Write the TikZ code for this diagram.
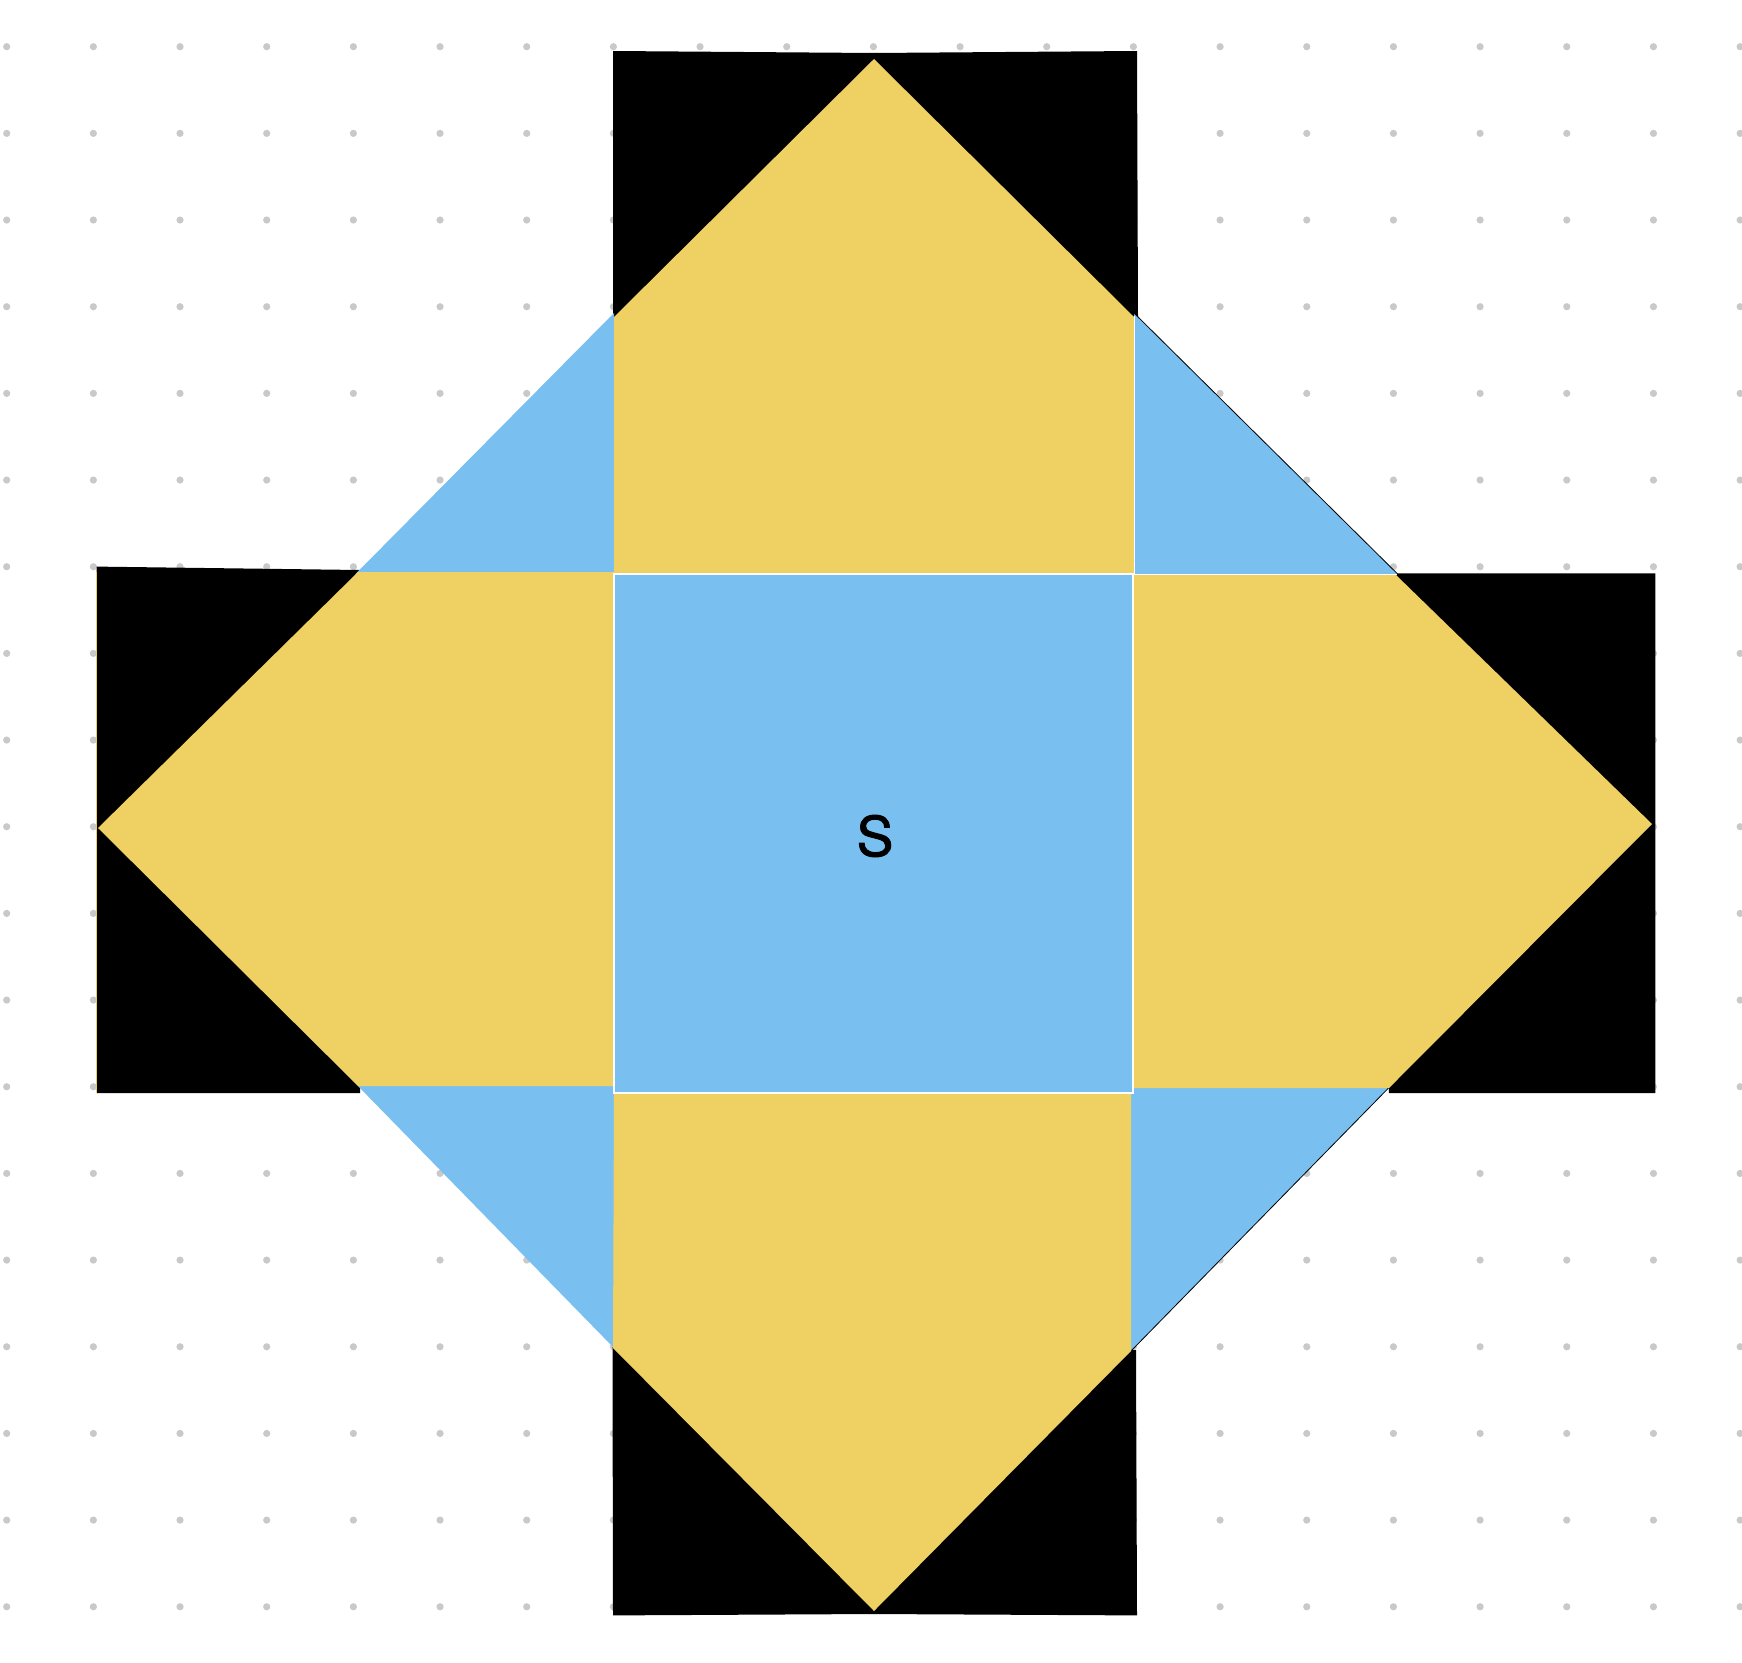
\documentclass[tikz,border=0pt]{standalone}
\usepackage{fontspec}
\setmainfont{TeX Gyre Heros}
\newfontfamily\labelfont[FakeBold=1.6]{TeX Gyre Heros}
\definecolor{flapyellow}{HTML}{EFD063}
\definecolor{skyblue}{HTML}{79C0F0}
\definecolor{dotgray}{HTML}{C9C9C9}
\tikzset{
  blackpart/.style={fill=black},
  yellowpart/.style={fill=flapyellow},
  bluepart/.style={fill=skyblue},
  centresq/.style={fill=skyblue, draw=white, line width=1.5pt},
  griddot/.style={fill=dotgray},
  seam/.style={white, line width=1pt},
  edgeline/.style={black, line width=0.8pt},
  labeltext/.style={font=\labelfont\fontsize{55}{66}\selectfont, text=black, inner sep=0pt}
}
\begin{document}
\begin{tikzpicture}[x=1pt,y=-1pt]
\useasboundingbox[fill=white] (0,0) rectangle (1742,1662);
% dot grid
\foreach \i in {0,...,20}{
  \foreach \j in {0,...,18}{
    \fill[griddot] ({6.7+86.67*\i},{46.7+86.67*\j}) circle[radius=3.6pt];
  }
}
% black rectangles
\fill[blackpart] (613,51) -- (874,53) -- (1137,51) -- (1138,318) -- (613,318) -- cycle;
\fill[blackpart] (96.7,566.6) -- (360,570) -- (360,1093) -- (96.7,1093) -- cycle;
\fill[blackpart] (1395.5,573.3) -- (1655.4,573.3) -- (1655.4,1093) -- (1388.8,1093) -- cycle;
\fill[blackpart] (612.5,1347) -- (1136,1350) -- (1137,1615.4) -- (874,1614) -- (613,1615.4) -- cycle;
\draw[flapyellow, line width=0.8pt] (96.2,572) -- (96.2,1093);
% blue corner triangles
\fill[bluepart] (614,313) -- (614,574) -- (355.5,574) -- cycle;
\fill[bluepart] (1134,313) -- (1134,574) -- (1397.6,574) -- cycle;
\fill[bluepart] (358,1086) -- (614,1086) -- (614,1348) -- cycle;
\fill[bluepart] (1131,1087.7) -- (1388.8,1087.7) -- (1131,1351) -- cycle;
\draw[edgeline] (1134,313) -- (1397.6,574);
\draw[edgeline] (1388.8,1087.7) -- (1131,1351);
% yellow flaps
\fill[yellowpart] (614,574) -- (614,317) -- (874,59) -- (1134,317) -- (1134,574) -- cycle;
\fill[yellowpart] (614,572) -- (358,572) -- (98,828) -- (358,1086) -- (614,1086) -- cycle;
\fill[yellowpart] (1134,575) -- (1396,575) -- (1652,824) -- (1389,1088) -- (1134,1088) -- cycle;
\fill[yellowpart] (614,1094) -- (1131,1094) -- (1131,1351) -- (874,1611) -- (613,1348) -- cycle;
% white seams between flaps and corner triangles
\draw[seam] (1134,574) -- (1397,574);
\draw[seam] (1134,316) -- (1134,574);
% central square
\filldraw[centresq] (614,574) rectangle (1133,1093);
\node[labeltext] (s) at (875,836) {S};
\end{tikzpicture}
\end{document}
